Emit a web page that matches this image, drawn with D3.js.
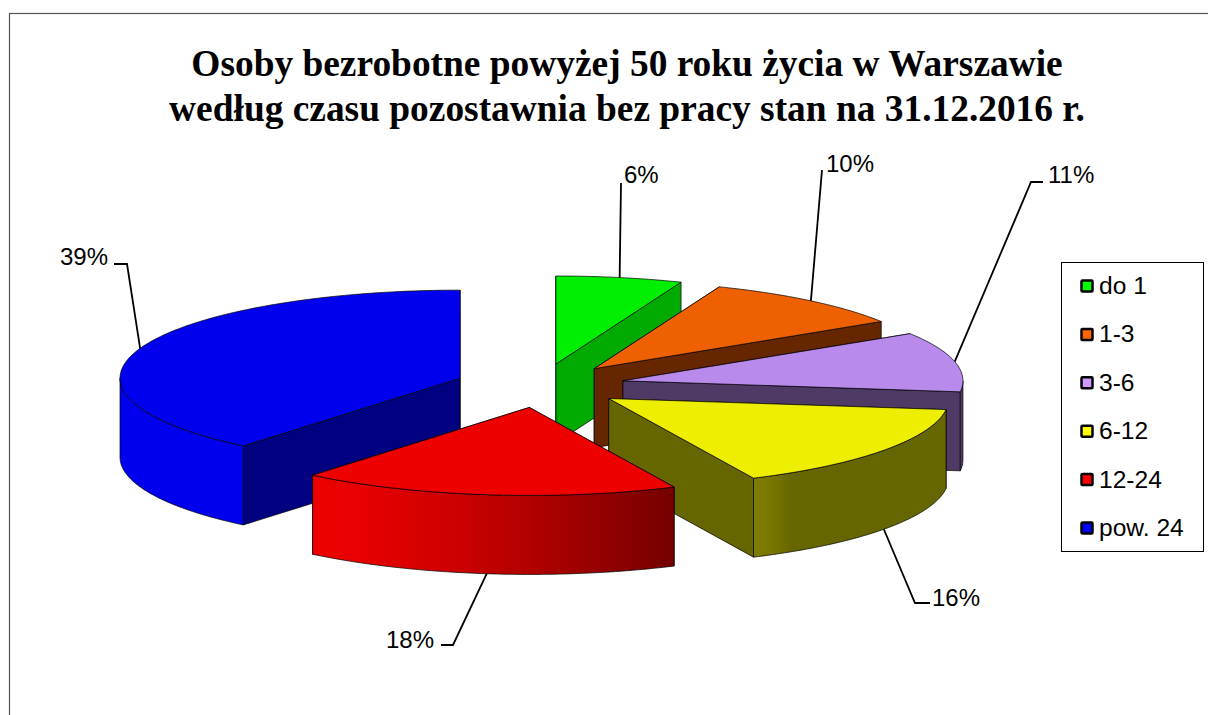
<!DOCTYPE html>
<html lang='pl'>
	<head>
		<meta charset='utf-8'>
		<title>Osoby bezrobotne</title>
		<script src="https://d3js.org/d3.v7.min.js"></script>
		<style type="text/css">
			body { margin: 0; background: #fff; }
			svg { display: block; }
		</style>
	</head>
	<body>
		<script type='text/javascript'>
			//Data
			var categories = ['do 1', '1-3', '3-6', '6-12', '12-24', 'pow. 24'];
			var percents = [6, 10, 11, 16, 18, 39];
			var titleLines = [
				'Osoby bezrobotne powyżej 50 roku życia w Warszawie',
				'według czasu pozostawnia bez pracy stan na 31.12.2016 r.'
			];

			//Colours
			var legendColors = ['#00ff00', '#ff6600', '#cc99ff', '#ffff00', '#ff0000', '#0000ff'];
			var topColors = ['#00ee00', '#ee6000', '#b88aec', '#eeee00', '#ee0000', '#0000ee'];
			var sideColors = ['#00aa00', '#662700', '#4f3a66', '#666600', '#aa0000', '#000080'];
			var outerStops = [
				[[0, '#00aa00']],
				[[0, '#662700']],
				[[0, '#4f3a66']],
				[[0, '#7e7c00'], [0.08, '#7a7800'], [0.2, '#666600'], [1, '#666600']],
				[[0, '#ee0000'], [0.15, '#e60000'], [0.4, '#cc0000'], [0.62, '#b00000'], [0.85, '#8c0000'], [1, '#740000']],
				[[0, '#0000ee']]
			];

			//Where the labels sit: [elbow x, elbow y, end x, end y, text x, text y, anchor]
			var labelLayout = [
				[621, 183, 621, 183, 624, 183, 'start'],
				[822, 170, 822, 170, 826, 172, 'start'],
				[1031, 182, 1043, 182, 1048, 183, 'start'],
				[915, 603, 930, 603, 932, 606, 'start'],
				[453, 645, 441, 645, 434, 648, 'end'],
				[127, 264, 114, 264, 108, 265, 'end']
			];

			//Width and height
			var w = 1208;
			var h = 715;

			//Pie geometry
			var cx = 540;
			var cy = 385.6;
			var rx = 340;
			var ry = 88;
			var depth = 79;
			var explode = 0.25;

			var svg = d3.select('body')
						.append('svg')
						.attr('width', w)
						.attr('height', h);

			var defs = svg.append('defs');

			//Outer frame, only top and left fall inside the picture
			svg.append('rect')
				.attr('x', 9.5)
				.attr('y', 13.5)
				.attr('width', w + 20)
				.attr('height', h + 20)
				.attr('fill', '#fff')
				.attr('stroke', '#555')
				.attr('stroke-width', 1.2);

			//Title
			svg.selectAll('.title')
				.data(titleLines)
				.enter()
				.append('text')
				.attr('class', 'title')
				.attr('x', 627)
				.attr('y', function(d, i) { return 76 + i * 45; })
				.attr('text-anchor', 'middle')
				.attr('font-family', '"Liberation Serif"')
				.attr('font-weight', 'bold')
				.attr('font-size', 37.4)
				.attr('fill', '#000')
				.text(function(d) { return d; });

			var pie = d3.pie().sort(null).value(function(d) { return d; });
			var slices = pie(percents);

			//Every slice is pushed out along its middle angle
			slices.forEach(function(s, i) {
				var mid = (s.startAngle + s.endAngle) / 2;
				s.index = i;
				s.mid = mid;
				s.ox = cx + explode * rx * Math.sin(mid);
				s.oy = cy - explode * ry * Math.cos(mid);
			});

			function rimX(s, a) { return s.ox + rx * Math.sin(a); }
			function rimY(s, a) { return s.oy - ry * Math.cos(a); }

			function arcPoints(s, a0, a1, drop) {
				var steps = Math.max(2, Math.ceil((a1 - a0) * 60));
				return d3.range(steps + 1).map(function(k) {
					var a = a0 + (a1 - a0) * k / steps;
					return [rimX(s, a), rimY(s, a) + drop];
				});
			}

			var line = d3.line();

			function topPath(s) {
				return line([[s.ox, s.oy]].concat(arcPoints(s, s.startAngle, s.endAngle, 0))) + 'Z';
			}

			function radialWall(s, a) {
				return line([
					[s.ox, s.oy],
					[rimX(s, a), rimY(s, a)],
					[rimX(s, a), rimY(s, a) + depth],
					[s.ox, s.oy + depth]
				]) + 'Z';
			}

			function outerWall(s, a0, a1) {
				var upper = arcPoints(s, a0, a1, 0);
				var lower = arcPoints(s, a0, a1, depth).reverse();
				return line(upper.concat(lower)) + 'Z';
			}

			//Leader lines go under the slices
			var anchors = slices.map(function(s) {
				var x = rimX(s, s.mid);
				var y = rimY(s, s.mid);
				//rim on the front half hangs at the bottom of the wall
				if (Math.cos(s.mid) < 0) { y += depth; }
				return [x, y];
			});

			svg.selectAll('.leader')
				.data(slices)
				.enter()
				.append('path')
				.attr('class', 'leader')
				.attr('fill', 'none')
				.attr('stroke', '#000')
				.attr('stroke-width', 1.8)
				.attr('d', function(s, i) {
					var l = labelLayout[i];
					return line([anchors[i], [l[0], l[1]], [l[2], l[3]]]);
				});

			//Slices, back to front
			var drawOrder = [0, 1, 2, 3, 5, 4];
			var halfPi = Math.PI / 2;

			drawOrder.forEach(function(i) {
				var s = slices[i];
				var g = svg.append('g').attr('class', 'slice');
				var walls = s.mid > Math.PI ? [s.endAngle, s.startAngle] : [s.startAngle, s.endAngle];

				walls.forEach(function(a) {
					g.append('path')
						.attr('d', radialWall(s, a))
						.attr('fill', sideColors[i])
						.attr('stroke', '#000')
						.attr('stroke-width', 0.7)
						.attr('stroke-linejoin', 'round');
				});

				//Only the front part of the rim can be seen
				var a0 = Math.max(s.startAngle, halfPi);
				var a1 = Math.min(s.endAngle, 3 * halfPi);
				if (a1 > a0) {
					var x0 = d3.min([rimX(s, a0), rimX(s, a1)]);
					var x1 = d3.max([rimX(s, a0), rimX(s, a1)]);
					if (s.startAngle < Math.PI && s.endAngle > Math.PI) { x0 = rimX(s, a1); x1 = rimX(s, a0); }
					var gradient = defs.append('linearGradient')
						.attr('id', 'rim' + i)
						.attr('gradientUnits', 'userSpaceOnUse')
						.attr('x1', x0)
						.attr('x2', x1)
						.attr('y1', 0)
						.attr('y2', 0);
					gradient.selectAll('stop')
						.data(outerStops[i])
						.enter()
						.append('stop')
						.attr('offset', function(d) { return d[0]; })
						.attr('stop-color', function(d) { return d[1]; });

					g.append('path')
						.attr('d', outerWall(s, a0, a1))
						.attr('fill', 'url(#rim' + i + ')')
						.attr('stroke', '#000')
						.attr('stroke-width', 0.7)
						.attr('stroke-linejoin', 'round');
				}

				g.append('path')
					.attr('d', topPath(s))
					.attr('fill', topColors[i])
					.attr('stroke', '#000')
					.attr('stroke-width', 0.7)
					.attr('stroke-linejoin', 'round');
			});

			//Percent labels
			svg.selectAll('.pct')
				.data(slices)
				.enter()
				.append('text')
				.attr('class', 'pct')
				.attr('x', function(s, i) { return labelLayout[i][4]; })
				.attr('y', function(s, i) { return labelLayout[i][5]; })
				.attr('text-anchor', function(s, i) { return labelLayout[i][6]; })
				.attr('font-family', '"Liberation Sans"')
				.attr('font-size', 24)
				.attr('fill', '#000')
				.text(function(s) { return d3.format('d')(s.value) + '%'; });

			//Legend
			var legendY = d3.scalePoint()
				.domain(categories)
				.range([286, 528]);

			svg.append('rect')
				.attr('x', 1061.5)
				.attr('y', 262.5)
				.attr('width', 142)
				.attr('height', 289)
				.attr('fill', '#fff')
				.attr('stroke', '#000')
				.attr('stroke-width', 1);

			var rows = svg.selectAll('.legend-row')
				.data(categories)
				.enter()
				.append('g')
				.attr('class', 'legend-row')
				.attr('transform', function(d) { return 'translate(0,' + legendY(d) + ')'; });

			rows.append('rect')
				.attr('x', 1081.5)
				.attr('y', -5.5)
				.attr('width', 11)
				.attr('height', 11)
				.attr('rx', 1)
				.attr('fill', function(d, i) { return legendColors[i]; })
				.attr('stroke', '#000')
				.attr('stroke-width', 2.5);

			rows.append('text')
				.attr('x', 1099)
				.attr('y', 8)
				.attr('font-family', '"Liberation Sans"')
				.attr('font-size', 24.6)
				.attr('fill', '#000')
				.text(function(d) { return d; });
		</script>
	</body>
</html>
